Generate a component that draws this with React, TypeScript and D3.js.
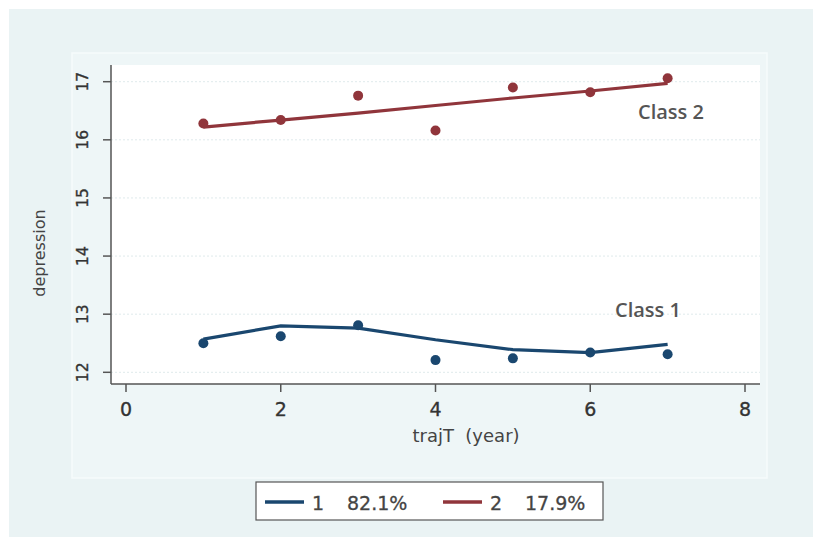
import React from "react";
import * as d3 from "d3";

const years = [1, 2, 3, 4, 5, 6, 7];
const class1Observed = [12.5, 12.62, 12.81, 12.21, 12.24, 12.34, 12.31];
const class1Predicted = [12.57, 12.8, 12.76, 12.56, 12.39, 12.34, 12.48];
const class2Observed = [16.28, 16.34, 16.76, 16.16, 16.9, 16.82, 17.06];
const class2Predicted = [16.22, 16.34, 16.46, 16.59, 16.72, 16.84, 16.97];
const xTicks = [0, 2, 4, 6, 8];
const yTicks = [12, 13, 14, 15, 16, 17];
const legendLabels = ["1", "2"];
const legendShares = ["82.1%", "17.9%"];
const classLabels = ["Class 1", "Class 2"];

const BLUE = "#1a476f";
const RED = "#90353b";

export default function App() {
  const x = d3.scaleLinear().domain([0, 8]).range([126, 745]);
  const y = d3.scaleLinear().domain([12, 17]).range([372.3, 81.7]);
  const plotL = 111, plotR = 760, plotT = 65, plotB = 384;
  const line = d3
    .line<number>()
    .x((_, i) => x(years[i]))
    .y((d) => y(d));
  const font = "'DejaVu Sans', sans-serif";
  const heavy = { stroke: "#333", strokeWidth: 0.35 };
  const series = [
    { obs: class1Observed, pred: class1Predicted, color: BLUE },
    { obs: class2Observed, pred: class2Predicted, color: RED },
  ];
  return (
    <svg
      width={813}
      height={538}
      style={{ position: "absolute", left: 0, top: 0 }}
    >
      <rect x={0} y={0} width={813} height={538} fill="#ffffff" />
      <rect x={9} y={9} width={804} height={528} fill="#eaf3f4" />
      <rect
        x={72}
        y={53}
        width={695}
        height={425}
        fill="#eef6f7"
        stroke="#f6fbfb"
        strokeWidth={1.5}
      />
      <rect x={plotL} y={plotT} width={plotR - plotL} height={plotB - plotT} fill="#ffffff" />
      {yTicks.map((t) => (
        <line
          key={"g" + t}
          x1={plotL}
          x2={plotR}
          y1={y(t)}
          y2={y(t)}
          stroke="#dfeaec"
          strokeWidth={1}
          strokeDasharray="2,2"
        />
      ))}
      <line x1={plotL} x2={plotL} y1={plotT} y2={plotB} stroke="#555" strokeWidth={1.5} />
      <line x1={plotL} x2={plotR} y1={plotB} y2={plotB} stroke="#555" strokeWidth={1.5} />
      {yTicks.map((t) => (
        <g key={"y" + t}>
          <line x1={plotL - 8} x2={plotL} y1={y(t)} y2={y(t)} stroke="#555" strokeWidth={1.5} />
          <text
            transform={`translate(88,${y(t)}) rotate(-90)`}
            textAnchor="middle"
            fontFamily={font}
            fontSize={15.5}
            fill="#333"
            {...heavy}
          >
            {t}
          </text>
        </g>
      ))}
      {xTicks.map((t) => (
        <g key={"x" + t}>
          <line x1={x(t)} x2={x(t)} y1={plotB} y2={plotB + 8} stroke="#555" strokeWidth={1.5} />
          <text
            x={x(t)}
            y={416}
            textAnchor="middle"
            fontFamily={font}
            fontSize={19}
            fill="#333"
            {...heavy}
          >
            {t}
          </text>
        </g>
      ))}
      <text
        transform="translate(45,253) rotate(-90)"
        textAnchor="middle"
        fontFamily={font}
        fontSize={16}
        fill="#444"
      >
        depression
      </text>
      <text
        x={466}
        y={442}
        textAnchor="middle"
        fontFamily={font}
        fontSize={18}
        fill="#444"
        style={{ whiteSpace: "pre" }}
      >
        {"trajT  (year)"}
      </text>
      {series.map((s, si) => (
        <g key={"s" + si}>
          <path d={line(s.pred) || ""} fill="none" stroke={s.color} strokeWidth={3.2} />
          {s.obs.map((v, i) => (
            <circle key={i} cx={x(years[i])} cy={y(v)} r={5} fill={s.color} />
          ))}
        </g>
      ))}
      <text x={615} y={317} fontFamily="'Open Sans', sans-serif" fontWeight={600} fontSize={20} fill="#555">
        {classLabels[0]}
      </text>
      <text x={638} y={119} fontFamily="'Open Sans', sans-serif" fontWeight={600} fontSize={20} fill="#555">
        {classLabels[1]}
      </text>
      <rect x={256} y={482} width={347} height={38} fill="#ffffff" stroke="#555" strokeWidth={1.2} />
      {[BLUE, RED].map((c, i) => {
        const x0 = i === 0 ? 265 : 443;
        return (
          <g key={"l" + i}>
            <line x1={x0} x2={x0 + 39} y1={502} y2={502} stroke={c} strokeWidth={3.5} />
            <text x={x0 + 47} y={510} fontFamily={font} fontSize={19} fill="#444" stroke="#444" strokeWidth={0.3}>
              {legendLabels[i]}
            </text>
            <text x={x0 + 82} y={510} fontFamily={font} fontSize={19} fill="#444" stroke="#444" strokeWidth={0.3}>
              {legendShares[i]}
            </text>
          </g>
        );
      })}
    </svg>
  );
}
